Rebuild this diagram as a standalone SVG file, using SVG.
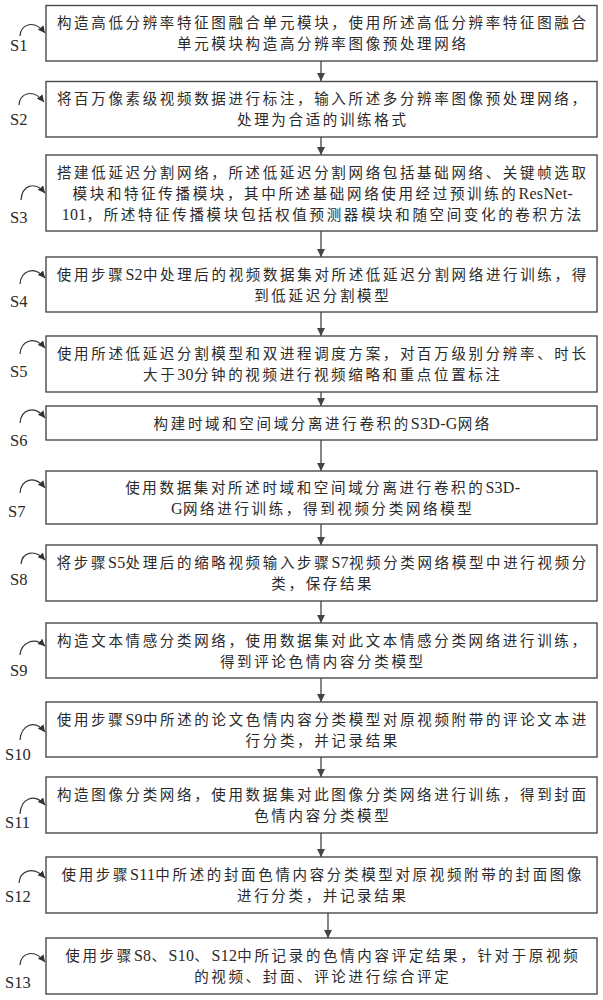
<svg xmlns="http://www.w3.org/2000/svg" width="603" height="1000" viewBox="0 0 603 1000">
<style>
.box{fill:#fff;stroke:#4a4a4a;stroke-width:1.4}
.t{font-family:"Liberation Serif","Noto Sans CJK SC",serif;font-size:14.5px;letter-spacing:2.65px;fill:#2a2a2a;text-anchor:middle}
.l{font-size:16px;letter-spacing:0.3px}
.s{font-family:"Liberation Serif",serif;font-size:16.5px;fill:#2a2a2a}
.c{fill:none;stroke:#444;stroke-width:1.3}
.k{fill:none;stroke:#333;stroke-width:1.2}
</style>
<defs>
<marker id="ah" markerUnits="userSpaceOnUse" markerWidth="9" markerHeight="9" refX="8" refY="4" orient="auto"><path d="M0,0 L8,4 L0,8 z" fill="#444"/></marker>
<marker id="ch" markerUnits="userSpaceOnUse" markerWidth="8" markerHeight="8" refX="7" refY="3.5" orient="auto"><path d="M0,0 L7,3.5 L0,7 z" fill="#333"/></marker>
</defs>
<rect width="603" height="1000" fill="#fff"/>
<g id="connectors">
<line class="c" x1="321" y1="61" x2="321" y2="81" marker-end="url(#ah)"/>
<line class="c" x1="321" y1="137" x2="321" y2="155" marker-end="url(#ah)"/>
<line class="c" x1="321" y1="231" x2="321" y2="257" marker-end="url(#ah)"/>
<line class="c" x1="321" y1="312" x2="321" y2="336" marker-end="url(#ah)"/>
<line class="c" x1="321" y1="392" x2="321" y2="406" marker-end="url(#ah)"/>
<line class="c" x1="321" y1="440" x2="321" y2="471" marker-end="url(#ah)"/>
<line class="c" x1="321" y1="524" x2="321" y2="545" marker-end="url(#ah)"/>
<line class="c" x1="321" y1="601" x2="321" y2="623" marker-end="url(#ah)"/>
<line class="c" x1="321" y1="678" x2="321" y2="702" marker-end="url(#ah)"/>
<line class="c" x1="321" y1="757" x2="321" y2="777" marker-end="url(#ah)"/>
<line class="c" x1="321" y1="833" x2="321" y2="857" marker-end="url(#ah)"/>
<line class="c" x1="328" y1="913" x2="328" y2="938" marker-end="url(#ah)"/>
</g>
<g id="S1"><rect class="box" x="46" y="5.5" width="551" height="55.5"/>
<text class="t" y="28" x="322.8">构造高低分辨率特征图融合单元模块，使用所述高低分辨率特征图融合</text>
<text class="t" y="49" x="322.8">单元模块构造高分辨率图像预处理网络</text>
<path class="k" d="M20,36 C21,24 34,19 45,33" marker-end="url(#ch)"/><text class="s" x="10" y="51">S1</text></g>
<g id="S2"><rect class="box" x="46" y="81.5" width="551" height="55.5"/>
<text class="t" y="103.5" x="322.8">将百万像素级视频数据进行标注，输入所述多分辨率图像预处理网络，</text>
<text class="t" y="124.5" x="322.8">处理为合适的训练格式</text>
<path class="k" d="M19,105 C20,93 33,88 44,102" marker-end="url(#ch)"/><text class="s" x="10" y="125">S2</text></g>
<g id="S3"><rect class="box" x="46" y="155" width="551" height="76"/>
<text class="t" y="177.5" x="322.8">搭建低延迟分割网络，所述低延迟分割网络包括基础网络、关键帧选取</text>
<text class="t" y="198.5" x="322.8">模块和特征传播模块，其中所述基础网络使用经过预训练的<tspan class="l">ResNet-</tspan></text>
<text class="t" y="219.5" x="322.8"><tspan class="l">101</tspan>，所述特征传播模块包括权值预测器模块和随空间变化的卷积方法</text>
<path class="k" d="M21,200 C22,186 34,180 45,193" marker-end="url(#ch)"/><text class="s" x="10" y="223">S3</text></g>
<g id="S4"><rect class="box" x="46" y="257" width="551" height="55"/>
<text class="t" y="279.5" x="322.8">使用步骤<tspan class="l">S2</tspan>中处理后的视频数据集对所述低延迟分割网络进行训练，得</text>
<text class="t" y="300.5" x="322.8">到低延迟分割模型</text>
<path class="k" d="M20,284 C21,271 34,265 45,278" marker-end="url(#ch)"/><text class="s" x="10" y="307">S4</text></g>
<g id="S5"><rect class="box" x="46" y="336" width="551" height="56"/>
<text class="t" y="359" x="322.8">使用所述低延迟分割模型和双进程调度方案，对百万级别分辨率、时长</text>
<text class="t" y="380" x="322.8">大于<tspan class="l">30</tspan>分钟的视频进行视频缩略和重点位置标注</text>
<path class="k" d="M20,354 C21,341 34,335 45,348" marker-end="url(#ch)"/><text class="s" x="10" y="377">S5</text></g>
<g id="S6"><rect class="box" x="46" y="406" width="551" height="34"/>
<text class="t" y="428.5" x="322.8">构建时域和空间域分离进行卷积的<tspan class="l">S3D-G</tspan>网络</text>
<path class="k" d="M20,423 C21,410 34,404 45,418" marker-end="url(#ch)"/><text class="s" x="10" y="446">S6</text></g>
<g id="S7"><rect class="box" x="46" y="471" width="551" height="53"/>
<text class="t" y="492.5" x="322.8">使用数据集对所述时域和空间域分离进行卷积的<tspan class="l">S3D-</tspan></text>
<text class="t" y="513.5" x="322.8"><tspan class="l">G</tspan>网络进行训练，得到视频分类网络模型</text>
<path class="k" d="M20,493 C21,480 34,474 45,488" marker-end="url(#ch)"/><text class="s" x="8" y="517">S7</text></g>
<g id="S8"><rect class="box" x="46" y="545" width="551" height="56"/>
<text class="t" y="568" x="322.8">将步骤<tspan class="l">S5</tspan>处理后的缩略视频输入步骤<tspan class="l">S7</tspan>视频分类网络模型中进行视频分</text>
<text class="t" y="589" x="322.8">类，保存结果</text>
<path class="k" d="M21,564 C22,553 34,548 45,560" marker-end="url(#ch)"/><text class="s" x="10" y="585">S8</text></g>
<g id="S9"><rect class="box" x="46" y="623" width="551" height="55"/>
<text class="t" y="645.5" x="322.8">构造文本情感分类网络，使用数据集对此文本情感分类网络进行训练，</text>
<text class="t" y="666.5" x="322.8">得到评论色情内容分类模型</text>
<path class="k" d="M20,655 C21,643 34,636 45,646" marker-end="url(#ch)"/><text class="s" x="10" y="676">S9</text></g>
<g id="S10"><rect class="box" x="46" y="702" width="551" height="55"/>
<text class="t" y="724.5" x="322.8">使用步骤<tspan class="l">S9</tspan>中所述的论文色情内容分类模型对原视频附带的评论文本进</text>
<text class="t" y="745.5" x="322.8">行分类，并记录结果</text>
<path class="k" d="M20,740 C21,726 34,718 45,732" marker-end="url(#ch)"/><text class="s" x="5" y="760">S10</text></g>
<g id="S11"><rect class="box" x="46" y="777" width="551" height="56"/>
<text class="t" y="800" x="322.8">构造图像分类网络，使用数据集对此图像分类网络进行训练，得到封面</text>
<text class="t" y="821" x="322.8">色情内容分类模型</text>
<path class="k" d="M20,814 C21,799 34,792 45,805" marker-end="url(#ch)"/><text class="s" x="5" y="828">S11</text></g>
<g id="S12"><rect class="box" x="46" y="857" width="551" height="56"/>
<text class="t" y="880" x="322.8">使用步骤<tspan class="l">S11</tspan>中所述的封面色情内容分类模型对原视频附带的封面图像</text>
<text class="t" y="901" x="322.8">进行分类，并记录结果</text>
<path class="k" d="M19,883 C20,871 33,865 45,878" marker-end="url(#ch)"/><text class="s" x="5" y="902">S12</text></g>
<g id="S13"><rect class="box" x="46" y="938" width="551" height="56"/>
<text class="t" y="961" x="322.8">使用步骤<tspan class="l">S8</tspan>、<tspan class="l">S10</tspan>、<tspan class="l">S12</tspan>中所记录的色情内容评定结果，针对于原视频</text>
<text class="t" y="982" x="322.8">的视频、封面、评论进行综合评定</text>
<path class="k" d="M20,965 C21,953 34,948 45,962" marker-end="url(#ch)"/><text class="s" x="5" y="988">S13</text></g>
</svg>
